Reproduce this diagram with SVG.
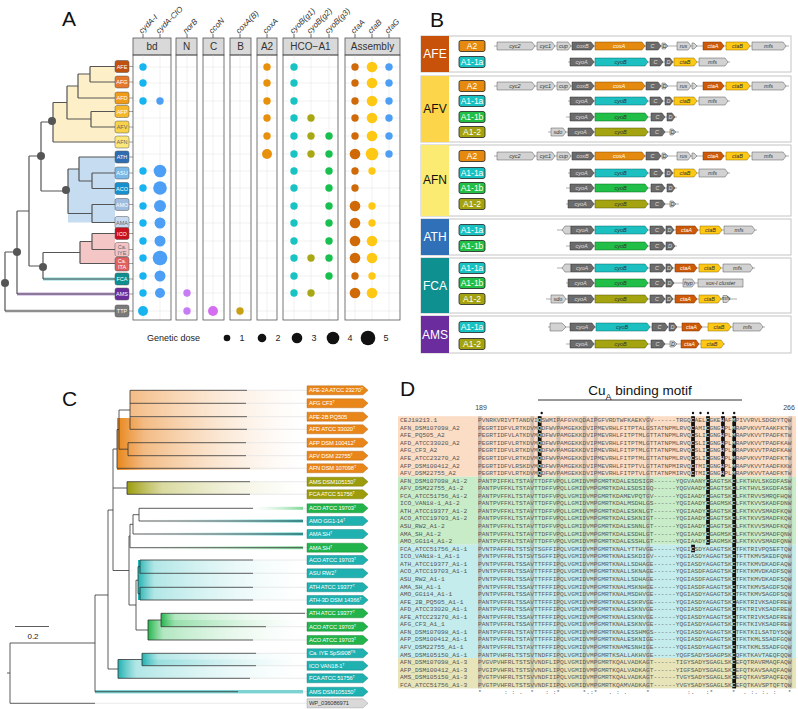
<svg xmlns="http://www.w3.org/2000/svg" width="798" height="709" viewBox="0 0 798 709">
<defs>
<style>
text{font-family:"Liberation Sans",Arial,sans-serif}
.pl{font-size:21px;fill:#111}
.ch{font-size:8px;font-style:italic;fill:#333}
.st{font-size:10px;fill:#333;text-anchor:middle}
.strip{fill:#d9d9d9;stroke:#555;stroke-width:0.8}
.pan{fill:none;stroke:#555;stroke-width:0.8}
.grid{stroke:#ebebeb;stroke-width:0.7;fill:none}
.tk{stroke:#444;stroke-width:0.8}
.tr{stroke:#555;stroke-width:1.2;fill:none}
.nd{fill:#555}
.tl{stroke:#444;stroke-width:0.5}
.tt{font-size:5.5px;fill:#fff;text-anchor:middle}
.ttd{font-size:5.5px;fill:#666;text-anchor:middle}
.c1{fill:#18b4f0}.c2{fill:#4c9ff5}.c3{fill:#c77cf5}.c4{fill:#d46ef0}.c5{fill:#c8a014}.c6{fill:#e8900c}.c7{fill:#19c3c3}.c8{fill:#a8a814}.c9{fill:#18c050}.c10{fill:#d06a08}.c11{fill:#ffc815}
.box{fill:#fff;stroke:#c4c4c4;stroke-width:1}
.blk{font-size:12px;text-anchor:middle}
.ty{stroke:#222;stroke-width:0.8}
.tyt{font-size:8.5px;fill:#fff;text-anchor:middle}
.bb{stroke:#999;stroke-width:0.8}
.lg{fill:#d2d2d2;stroke:#555;stroke-width:0.5}
.dg{fill:#6b6b6b;stroke:#333;stroke-width:0.5}
.or{fill:#e48a0e;stroke:#8a4a00;stroke-width:0.5}
.dor{fill:#cc5a08;stroke:#7a3000;stroke-width:0.5}
.gd{fill:#ffc814;stroke:#8a6a00;stroke-width:0.5}
.tq{fill:#1cc0c0;stroke:#0a6a6a;stroke-width:0.5}
.gn{fill:#22bf48;stroke:#0a6a20;stroke-width:0.5}
.ol{fill:#a4a410;stroke:#555500;stroke-width:0.5}
.g{font-size:5.5px;font-style:italic;text-anchor:middle;fill:#333}
.gw{font-size:5.5px;font-style:italic;text-anchor:middle;fill:#fff}
.gl{font-size:5.5px;font-style:italic;text-anchor:middle;fill:#ddd}
.ct{stroke:#333;stroke-width:0.8;fill:none}
.cf{stroke:#e4e4e4;stroke-width:0.8}
.lab{font-size:5.8px;fill:#fff;letter-spacing:-0.15px}
.labd{font-size:5.8px;fill:#333;letter-spacing:-0.15px}
.nm{font-family:"Liberation Mono","Courier New",monospace;font-size:6.23px;fill:#555}
.sq{font-family:"Liberation Mono","Courier New",monospace;font-size:6.23px;fill:#5a5a5a}
.w{fill:#fff}
</style>
<linearGradient id="gO"><stop offset="0" stop-color="#e8861a"/><stop offset="0.15" stop-color="#efa55c" stop-opacity="0.75"/><stop offset="1" stop-color="#fbe3cc" stop-opacity="0"/></linearGradient>
<linearGradient id="gOL"><stop offset="0" stop-color="#f2b070" stop-opacity="0.85"/><stop offset="1" stop-color="#fbe3cc" stop-opacity="0"/></linearGradient>
<linearGradient id="gOl"><stop offset="0" stop-color="#9c9c0c"/><stop offset="0.2" stop-color="#c0c060" stop-opacity="0.6"/><stop offset="1" stop-color="#e8e8c0" stop-opacity="0"/></linearGradient>
<linearGradient id="gT"><stop offset="0" stop-color="#1fb0b0"/><stop offset="0.1" stop-color="#7fd6d6" stop-opacity="0.6"/><stop offset="1" stop-color="#d8f4f4" stop-opacity="0"/></linearGradient>
<linearGradient id="gG"><stop offset="0" stop-color="#22b34a"/><stop offset="0.1" stop-color="#80d898" stop-opacity="0.6"/><stop offset="1" stop-color="#e0f6e6" stop-opacity="0"/></linearGradient>
<linearGradient id="gTr"><stop offset="0" stop-color="#d0f0f0" stop-opacity="0"/><stop offset="1" stop-color="#3cc0c0"/></linearGradient>
<linearGradient id="gGr"><stop offset="0" stop-color="#d0f0d8" stop-opacity="0"/><stop offset="1" stop-color="#7fd898"/></linearGradient>
<clipPath id="cpA"><rect x="133" y="55" width="38" height="265"/><rect x="176" y="55" width="21" height="265"/><rect x="203" y="55" width="21" height="265"/><rect x="230" y="55" width="21" height="265"/><rect x="257" y="55" width="20" height="265"/><rect x="283" y="55" width="55" height="265"/><rect x="345" y="55" width="55" height="265"/></clipPath>
</defs>
<rect width="798" height="709" fill="#fff"/>

<!-- ===== Panel A ===== -->
<text class="pl" x="62" y="26">A</text>
<g id="a-headers">
<text class="ch" transform="translate(142,34) rotate(-45)">cydA-I</text>
<text class="ch" transform="translate(159,34) rotate(-45)">cydA-CIO</text>
<text class="ch" transform="translate(186,34) rotate(-45)">norB</text>
<text class="ch" transform="translate(212,34) rotate(-45)">ccoN</text>
<text class="ch" transform="translate(239,34) rotate(-45)">coxA(B)</text>
<text class="ch" transform="translate(266,34) rotate(-45)">coxA</text>
<text class="ch" transform="translate(293,34) rotate(-45)">cyoB(g1)</text>
<text class="ch" transform="translate(310,34) rotate(-45)">cyoB(g2)</text>
<text class="ch" transform="translate(328,34) rotate(-45)">cyoB(g3)</text>
<text class="ch" transform="translate(354,34) rotate(-45)">ctaA</text>
<text class="ch" transform="translate(371,34) rotate(-45)">ctaB</text>
<text class="ch" transform="translate(388,34) rotate(-45)">ctaG</text>
<path class="tk" d="M143 34V38M160 34V38M187 34V38M213 34V38M240 34V38M267 34V38M294 34V38M311 34V38M329 34V38M355 34V38M372 34V38M389 34V38"/>
</g>
<g id="a-facets">
<rect class="strip" x="133" y="38" width="38" height="17"/><text class="st" x="152" y="50">bd</text>
<rect class="strip" x="176" y="38" width="21" height="17"/><text class="st" x="186.5" y="50">N</text>
<rect class="strip" x="203" y="38" width="21" height="17"/><text class="st" x="213.5" y="50">C</text>
<rect class="strip" x="230" y="38" width="21" height="17"/><text class="st" x="240.5" y="50">B</text>
<rect class="strip" x="257" y="38" width="20" height="17"/><text class="st" x="267" y="50">A2</text>
<rect class="strip" x="283" y="38" width="55" height="17"/><text class="st" x="310.5" y="50">HCO−A1</text>
<rect class="strip" x="345" y="38" width="55" height="17"/><text class="st" x="372.5" y="50">Assembly</text>
<g clip-path="url(#cpA)">
<path class="grid" d="M133 67H400M133 83H400M133 101H400M133 118H400M133 136H400M133 154H400M133 171H400M133 188H400M133 206H400M133 223H400M133 241H400M133 258H400M133 276H400M133 293H400M133 311H400"/>
<path class="grid" d="M143 55V320M160 55V320M187 55V320M213 55V320M240 55V320M267 55V320M294 55V320M311 55V320M329 55V320M355 55V320M372 55V320M389 55V320"/>
</g>
<rect class="pan" x="133" y="55" width="38" height="265"/>
<rect class="pan" x="176" y="55" width="21" height="265"/>
<rect class="pan" x="203" y="55" width="21" height="265"/>
<rect class="pan" x="230" y="55" width="21" height="265"/>
<rect class="pan" x="257" y="55" width="20" height="265"/>
<rect class="pan" x="283" y="55" width="55" height="265"/>
<rect class="pan" x="345" y="55" width="55" height="265"/>
</g>
<g id="a-dots">
<g class="c1"><circle cx="143" cy="67" r="3.7"/><circle cx="143" cy="83" r="3.7"/><circle cx="143" cy="101" r="3.7"/><circle cx="143" cy="171" r="3.7"/><circle cx="143" cy="188" r="3.7"/><circle cx="143" cy="206" r="3.7"/><circle cx="143" cy="223" r="3.7"/><circle cx="143" cy="241" r="3.7"/><circle cx="143" cy="258" r="3.7"/><circle cx="143" cy="276" r="3.7"/><circle cx="143" cy="293" r="3.7"/><circle cx="143" cy="311" r="5"/></g>
<g class="c2"><circle cx="160" cy="101" r="3.7"/><circle cx="160" cy="171" r="6.3"/><circle cx="160" cy="188" r="6.8"/><circle cx="160" cy="206" r="6"/><circle cx="160" cy="223" r="5.5"/><circle cx="160" cy="241" r="5.5"/><circle cx="160" cy="258" r="7.3"/><circle cx="160" cy="276" r="5.5"/><circle cx="160" cy="293" r="5"/></g>
<g class="c3"><circle cx="187" cy="293" r="3.7"/><circle cx="187" cy="311" r="3.7"/></g>
<circle class="c4" cx="213" cy="311" r="5"/>
<circle class="c5" cx="240" cy="311" r="3.7"/>
<g class="c6"><circle cx="267" cy="67" r="3.7"/><circle cx="267" cy="83" r="3.7"/><circle cx="267" cy="101" r="3.7"/><circle cx="267" cy="118" r="3.7"/><circle cx="267" cy="136" r="3.7"/><circle cx="267" cy="154" r="5"/></g>
<g class="c7"><circle cx="294" cy="67" r="3.7"/><circle cx="294" cy="83" r="3.7"/><circle cx="294" cy="101" r="3.7"/><circle cx="294" cy="118" r="3.7"/><circle cx="294" cy="136" r="3.7"/><circle cx="294" cy="154" r="3.7"/><circle cx="294" cy="171" r="3.7"/><circle cx="294" cy="188" r="3.7"/><circle cx="294" cy="206" r="3.7"/><circle cx="294" cy="223" r="3.7"/><circle cx="294" cy="241" r="3.7"/><circle cx="294" cy="258" r="3.7"/><circle cx="294" cy="276" r="3.7"/><circle cx="294" cy="293" r="3.7"/></g>
<g class="c8"><circle cx="311" cy="118" r="3.7"/><circle cx="311" cy="136" r="3.7"/><circle cx="311" cy="154" r="3.7"/><circle cx="311" cy="258" r="3.7"/><circle cx="311" cy="293" r="3.7"/></g>
<g class="c9"><circle cx="329" cy="136" r="3.7"/><circle cx="329" cy="154" r="3.7"/><circle cx="329" cy="171" r="3.7"/><circle cx="329" cy="188" r="3.7"/><circle cx="329" cy="206" r="3.7"/><circle cx="329" cy="223" r="3.7"/><circle cx="329" cy="241" r="3.7"/><circle cx="329" cy="258" r="3.7"/><circle cx="329" cy="276" r="3.7"/></g>
<g class="c10"><circle cx="355" cy="67" r="3.7"/><circle cx="355" cy="83" r="3.7"/><circle cx="355" cy="101" r="3.7"/><circle cx="355" cy="118" r="3.7"/><circle cx="355" cy="136" r="3.7"/><circle cx="355" cy="154" r="5.3"/><circle cx="355" cy="171" r="3.7"/><circle cx="355" cy="188" r="3.7"/><circle cx="355" cy="206" r="5.3"/><circle cx="355" cy="223" r="5.3"/><circle cx="355" cy="241" r="5.3"/><circle cx="355" cy="258" r="5.3"/><circle cx="355" cy="276" r="3.7"/><circle cx="355" cy="293" r="5.3"/></g>
<g class="c11"><circle cx="372" cy="67" r="5.3"/><circle cx="372" cy="83" r="5.3"/><circle cx="372" cy="101" r="5.3"/><circle cx="372" cy="118" r="5.3"/><circle cx="372" cy="136" r="5.3"/><circle cx="372" cy="154" r="6.3"/><circle cx="372" cy="171" r="3.7"/><circle cx="372" cy="206" r="3.7"/><circle cx="372" cy="223" r="3.7"/><circle cx="372" cy="241" r="5.3"/><circle cx="372" cy="258" r="5.3"/><circle cx="372" cy="276" r="3.7"/><circle cx="372" cy="293" r="5.3"/></g>
<g class="c2"><circle cx="389" cy="67" r="3.7"/><circle cx="389" cy="83" r="3.7"/><circle cx="389" cy="101" r="3.7"/><circle cx="389" cy="118" r="3.7"/><circle cx="389" cy="136" r="3.7"/><circle cx="389" cy="154" r="3.7"/></g>
</g>
<g id="a-legend">
<text x="147" y="341" font-size="9" fill="#222">Genetic dose</text>
<circle cx="227" cy="338" r="3.3" fill="#111"/><text x="242" y="341" font-size="9" fill="#222" text-anchor="middle">1</text>
<circle cx="262" cy="338" r="4.3" fill="#111"/><text x="278" y="341" font-size="9" fill="#222" text-anchor="middle">2</text>
<circle cx="297" cy="338" r="5.3" fill="#111"/><text x="314" y="341" font-size="9" fill="#222" text-anchor="middle">3</text>
<circle cx="333" cy="338" r="6.3" fill="#111"/><text x="350" y="341" font-size="9" fill="#222" text-anchor="middle">4</text>
<circle cx="368" cy="338" r="7.3" fill="#111"/><text x="386" y="341" font-size="9" fill="#222" text-anchor="middle">5</text>
</g>
<g id="a-tree">
<path d="M90 66.5H115V142H53V102.5H67V86H78V74H90Z" fill="#fdf0c8"/>
<path d="M79 157H115V222.5H68V169H79Z" fill="#c6dcf0"/>
<path d="M92 233.5H115V263.5H80V241.5H92Z" fill="#f5c6c6"/>
<path d="M43 279H115" stroke="#8ad8d8" stroke-width="3"/>
<path d="M17 294H115" stroke="#c0a0dc" stroke-width="3"/>
<path d="M5 311H115" stroke="#c8c8c8" stroke-width="3"/>
<path class="tr" d="M90 66.5H115M90 82H115M90 66.5V82M78 74H90M78 98H115M78 74V98M91 111.5H115M91 127H115M91 111.5V127M67 86H78M67 119H91M67 86V119M53 102.5H67M53 142H115M53 102.5V142M92 173H115M92 188.5H115M92 173V188.5M79 157H115M79 181H92M79 157V181M92 204.5H115M92 222.5H115M92 204.5V222.5M68 169H79M68 213.5H92M68 169V213.5M41 122H53M41 191H68M41 122V191M92 233.5H115M92 249.5H115M92 233.5V249.5M80 241.5H92M80 263.5H115M80 241.5V263.5M43 252.5H80M43 279H115M43 252.5V279M29 156H41M29 266H43M29 156V266M17 211H29M17 294H115M17 211V294M5 252H17M5 311H115M5 252V311"/>
<circle class="nd" cx="52" cy="121" r="4"/><circle class="nd" cx="41" cy="156" r="4"/><circle class="nd" cx="66" cy="190" r="4"/><circle class="nd" cx="43" cy="267" r="4"/><circle class="nd" cx="17" cy="252" r="4"/><circle class="nd" cx="5" cy="283" r="4"/>
<path class="tl" d="M129 66.5H133M129 82H133M129 98H133M129 111.5H133M129 127H133M129 142H133M129 157H133M129 173H133M129 188.5H133M129 204.5H133M129 222.5H133M129 233.5H133M129 249.5H133M129 263.5H133M129 279H133M129 294H133M129 311H133"/>
</g>
<g id="a-tip-AFE"><rect x="115" y="60.5" width="14" height="12" rx="2" fill="#c0500e" stroke="#555" stroke-width="0.5"/><text class="tt" x="122" y="68.5">AFE</text></g>
<g id="a-tip-AFG"><rect x="115" y="76" width="14" height="12" rx="2" fill="#e5782a" stroke="#555" stroke-width="0.5"/><text class="tt" x="122" y="84">AFG</text></g>
<g id="a-tip-AFD"><rect x="115" y="92" width="14" height="12" rx="2" fill="#f09a1a" stroke="#555" stroke-width="0.5"/><text class="tt" x="122" y="100">AFD</text></g>
<g id="a-tip-AFP"><rect x="115" y="105.5" width="14" height="12" rx="2" fill="#f5b82a" stroke="#555" stroke-width="0.5"/><text class="tt" x="122" y="113.5">AFP</text></g>
<g id="a-tip-AFV"><rect x="115" y="121" width="14" height="12" rx="2" fill="#f8d24a" stroke="#555" stroke-width="0.5"/><text class="ttd" x="122" y="129">AFV</text></g>
<g id="a-tip-AFN"><rect x="115" y="136" width="14" height="12" rx="2" fill="#fbe77a" stroke="#555" stroke-width="0.5"/><text class="ttd" x="122" y="144">AFN</text></g>
<g id="a-tip-ATH"><rect x="115" y="151" width="14" height="12" rx="2" fill="#2f6db3" stroke="#555" stroke-width="0.5"/><text class="tt" x="122" y="159">ATH</text></g>
<g id="a-tip-ASU"><rect x="115" y="167" width="14" height="12" rx="2" fill="#7ab8e8" stroke="#555" stroke-width="0.5"/><text class="tt" x="122" y="175">ASU</text></g>
<g id="a-tip-ACO"><rect x="115" y="182.5" width="14" height="12" rx="2" fill="#1790d0" stroke="#555" stroke-width="0.5"/><text class="tt" x="122" y="190.5">ACO</text></g>
<g id="a-tip-AMO"><rect x="115" y="198.5" width="14" height="12" rx="2" fill="#a0bde0" stroke="#555" stroke-width="0.5"/><text class="tt" x="122" y="206.5">AMO</text></g>
<g id="a-tip-AMA"><rect x="115" y="216.5" width="14" height="12" rx="2" fill="#c8daf0" stroke="#555" stroke-width="0.5"/><text class="ttd" x="122" y="224.5">AMA</text></g>
<g id="a-tip-ICO"><rect x="115" y="227.5" width="14" height="12" rx="2" fill="#c8101e" stroke="#555" stroke-width="0.5"/><text class="tt" x="122" y="235.5">ICO</text></g>
<g id="a-tip-IYE"><rect x="115" y="242.5" width="14" height="14" rx="2" fill="#f4c4c4" stroke="#555" stroke-width="0.5"/><text class="ttd" x="122" y="248.5">Ca.</text><text class="ttd" x="122" y="254.5">IYE</text></g>
<g id="a-tip-ITA"><rect x="115" y="257" width="14" height="14" rx="2" fill="#e06060" stroke="#555" stroke-width="0.5"/><text class="tt" x="122" y="263">Ca.</text><text class="tt" x="122" y="269">ITA</text></g>
<g id="a-tip-FCA"><rect x="115" y="273" width="14" height="12" rx="2" fill="#0d8f8f" stroke="#555" stroke-width="0.5"/><text class="tt" x="122" y="281">FCA</text></g>
<g id="a-tip-AMS"><rect x="115" y="288" width="14" height="12" rx="2" fill="#6a2b9c" stroke="#555" stroke-width="0.5"/><text class="tt" x="122" y="296">AMS</text></g>
<g id="a-tip-TTP"><rect x="115" y="305" width="14" height="12" rx="2" fill="#7a7a7a" stroke="#555" stroke-width="0.5"/><text class="tt" x="122" y="313">TTP</text></g>

<!-- ===== Panel B ===== -->
<text class="pl" x="430" y="27">B</text>
<g id="b-AFE"><rect class="box" x="421" y="36" width="370" height="36"/><rect x="421" y="36" width="28" height="36" fill="#c8520a"/><text class="blk" x="435" y="58" fill="#fff">AFE</text></g>
<g id="b-AFV"><rect class="box" x="421" y="76" width="370" height="66"/><rect x="421" y="76" width="28" height="66" fill="#fcd54a"/><text class="blk" x="435" y="113" fill="#111">AFV</text></g>
<g id="b-AFN"><rect class="box" x="421" y="145" width="370" height="71"/><rect x="421" y="145" width="28" height="71" fill="#fceb73"/><text class="blk" x="435" y="184" fill="#111">AFN</text></g>
<g id="b-ATH"><rect class="box" x="421" y="219" width="370" height="36"/><rect x="421" y="219" width="28" height="36" fill="#2f70b8"/><text class="blk" x="435" y="241" fill="#fff">ATH</text></g>
<g id="b-FCA"><rect class="box" x="421" y="258" width="370" height="55"/><rect x="421" y="258" width="28" height="55" fill="#0f9090"/><text class="blk" x="435" y="289.5" fill="#fff">FCA</text></g>
<g id="b-AMS"><rect class="box" x="421" y="316" width="370" height="37"/><rect x="421" y="316" width="28" height="37" fill="#6b2d9e"/><text class="blk" x="435" y="339" fill="#fff">AMS</text></g>
<g id="b-types">
<rect class="ty" x="459" y="40.5" width="26" height="11" rx="2" fill="#e58a0e"/><text class="tyt" x="472" y="49">A2</text>
<rect class="ty" x="459" y="56.5" width="26" height="11" rx="2" fill="#19c2c2"/><text class="tyt" x="472" y="65">A1-1a</text>
<rect class="ty" x="459" y="80.5" width="26" height="11" rx="2" fill="#e58a0e"/><text class="tyt" x="472" y="89">A2</text>
<rect class="ty" x="459" y="95.5" width="26" height="11" rx="2" fill="#19c2c2"/><text class="tyt" x="472" y="104">A1-1a</text>
<rect class="ty" x="459" y="111.5" width="26" height="11" rx="2" fill="#21bf45"/><text class="tyt" x="472" y="120">A1-1b</text>
<rect class="ty" x="459" y="126.5" width="26" height="11" rx="2" fill="#a3a311"/><text class="tyt" x="472" y="135">A1-2</text>
<rect class="ty" x="459" y="150.5" width="26" height="11" rx="2" fill="#e58a0e"/><text class="tyt" x="472" y="159">A2</text>
<rect class="ty" x="459" y="167.5" width="26" height="11" rx="2" fill="#19c2c2"/><text class="tyt" x="472" y="176">A1-1a</text>
<rect class="ty" x="459" y="182.5" width="26" height="11" rx="2" fill="#21bf45"/><text class="tyt" x="472" y="191">A1-1b</text>
<rect class="ty" x="459" y="198.5" width="26" height="11" rx="2" fill="#a3a311"/><text class="tyt" x="472" y="207">A1-2</text>
<rect class="ty" x="459" y="224.5" width="26" height="11" rx="2" fill="#19c2c2"/><text class="tyt" x="472" y="233">A1-1a</text>
<rect class="ty" x="459" y="240.5" width="26" height="11" rx="2" fill="#21bf45"/><text class="tyt" x="472" y="249">A1-1b</text>
<rect class="ty" x="459" y="262.5" width="26" height="11" rx="2" fill="#19c2c2"/><text class="tyt" x="472" y="271">A1-1a</text>
<rect class="ty" x="459" y="277.5" width="26" height="11" rx="2" fill="#21bf45"/><text class="tyt" x="472" y="286">A1-1b</text>
<rect class="ty" x="459" y="293.5" width="26" height="11" rx="2" fill="#a3a311"/><text class="tyt" x="472" y="302">A1-2</text>
<rect class="ty" x="459" y="321.5" width="26" height="11" rx="2" fill="#19c2c2"/><text class="tyt" x="472" y="330">A1-1a</text>
<rect class="ty" x="459" y="338.5" width="26" height="11" rx="2" fill="#a3a311"/><text class="tyt" x="472" y="347">A1-2</text>
</g>
<g id="b-genes">
<g transform="translate(0,46)"><line class="bb" x1="494" y1="0" x2="789" y2="0"/><path class="lg" d="M497 -4H532L535 0L532 4H497Z"/><text class="g" x="515" y="2">cyc2</text><path class="lg" d="M537 -4H552L555 0L552 4H537Z"/><text class="g" x="545.5" y="2">cyc1</text><path class="lg" d="M557 -4H568L571 0L568 4H557Z"/><text class="g" x="563.5" y="2">cup</text><path class="dg" d="M572 -4H591L594 0L591 4H572Z"/><text class="gl" x="582.5" y="2">coxB</text><path class="or" d="M595 -4H642L645 0L642 4H595Z"/><text class="gw" x="619" y="2">coxA</text><path class="dg" d="M646 -4H658L661 0L658 4H646Z"/><text class="gl" x="652.5" y="2">C</text><path class="lg" d="M662 -3H665L668 0L665 3H662Z"/><text class="g" x="664.5" y="1.5" font-size="4">D</text><path class="lg" d="M677 -4H688L691 0L688 4H677Z"/><text class="g" x="683.5" y="2">rus</text><path class="lg" d="M692 -3H694L697 0L694 3H692Z"/><path class="dor" d="M703 -4H721L724 0L721 4H703Z"/><text class="gw" x="713" y="2">ctaA</text><path class="gd" d="M726 -4H747L750 0L747 4H726Z"/><text class="g" x="737.5" y="2">ctaB</text><path class="lg" d="M752 -4H783L786 0L783 4H752Z"/><text class="g" x="768.5" y="2">mfs</text></g>
<g transform="translate(0,86)"><line class="bb" x1="494" y1="0" x2="789" y2="0"/><path class="lg" d="M497 -4H532L535 0L532 4H497Z"/><text class="g" x="515" y="2">cyc2</text><path class="lg" d="M537 -4H552L555 0L552 4H537Z"/><text class="g" x="545.5" y="2">cyc1</text><path class="lg" d="M557 -4H568L571 0L568 4H557Z"/><text class="g" x="563.5" y="2">cup</text><path class="dg" d="M572 -4H591L594 0L591 4H572Z"/><text class="gl" x="582.5" y="2">coxB</text><path class="or" d="M595 -4H642L645 0L642 4H595Z"/><text class="gw" x="619" y="2">coxA</text><path class="dg" d="M646 -4H658L661 0L658 4H646Z"/><text class="gl" x="652.5" y="2">C</text><path class="lg" d="M662 -3H665L668 0L665 3H662Z"/><text class="g" x="664.5" y="1.5" font-size="4">D</text><path class="lg" d="M677 -4H688L691 0L688 4H677Z"/><text class="g" x="683.5" y="2">rus</text><path class="lg" d="M692 -3H694L697 0L694 3H692Z"/><path class="dor" d="M703 -4H721L724 0L721 4H703Z"/><text class="gw" x="713" y="2">ctaA</text><path class="gd" d="M726 -4H747L750 0L747 4H726Z"/><text class="g" x="737.5" y="2">ctaB</text><path class="lg" d="M752 -4H783L786 0L783 4H752Z"/><text class="g" x="768.5" y="2">mfs</text></g>
<g transform="translate(0,156)"><line class="bb" x1="494" y1="0" x2="789" y2="0"/><path class="lg" d="M497 -4H532L535 0L532 4H497Z"/><text class="g" x="515" y="2">cyc2</text><path class="lg" d="M537 -4H552L555 0L552 4H537Z"/><text class="g" x="545.5" y="2">cyc1</text><path class="lg" d="M557 -4H568L571 0L568 4H557Z"/><text class="g" x="563.5" y="2">cup</text><path class="dg" d="M572 -4H591L594 0L591 4H572Z"/><text class="gl" x="582.5" y="2">coxB</text><path class="or" d="M595 -4H642L645 0L642 4H595Z"/><text class="gw" x="619" y="2">coxA</text><path class="dg" d="M646 -4H658L661 0L658 4H646Z"/><text class="gl" x="652.5" y="2">C</text><path class="lg" d="M662 -3H665L668 0L665 3H662Z"/><text class="g" x="664.5" y="1.5" font-size="4">D</text><path class="lg" d="M677 -4H688L691 0L688 4H677Z"/><text class="g" x="683.5" y="2">rus</text><path class="lg" d="M692 -3H694L697 0L694 3H692Z"/><path class="dor" d="M703 -4H721L724 0L721 4H703Z"/><text class="gw" x="713" y="2">ctaA</text><path class="gd" d="M726 -4H747L750 0L747 4H726Z"/><text class="g" x="737.5" y="2">ctaB</text><path class="lg" d="M752 -4H783L786 0L783 4H752Z"/><text class="g" x="768.5" y="2">mfs</text></g>
<g transform="translate(0,62)"><line class="bb" x1="568" y1="0" x2="730" y2="0"/><path class="dg" d="M570 -4H591L594 0L591 4H570Z"/><text class="gl" x="581.5" y="2">cyoA</text><path class="tq" d="M595 -4H645L648 0L645 4H595Z"/><text class="g" x="620.5" y="2">cyoB</text><path class="dg" d="M650 -4H660L663 0L660 4H650Z"/><text class="gl" x="655.5" y="2">C</text><path class="dg" d="M665 -4H670L673 0L670 4H665Z"/><text class="gl" x="668.5" y="2">D</text><path class="gd" d="M674 -4H694L697 0L694 4H674Z"/><text class="g" x="685" y="2">ctaB</text><path class="lg" d="M699 -4H725L728 0L725 4H699Z"/><text class="g" x="712.5" y="2">mfs</text></g>
<g transform="translate(0,101)"><line class="bb" x1="568" y1="0" x2="730" y2="0"/><path class="dg" d="M570 -4H591L594 0L591 4H570Z"/><text class="gl" x="581.5" y="2">cyoA</text><path class="tq" d="M595 -4H645L648 0L645 4H595Z"/><text class="g" x="620.5" y="2">cyoB</text><path class="dg" d="M650 -4H660L663 0L660 4H650Z"/><text class="gl" x="655.5" y="2">C</text><path class="dg" d="M665 -4H670L673 0L670 4H665Z"/><text class="gl" x="668.5" y="2">D</text><path class="gd" d="M674 -4H694L697 0L694 4H674Z"/><text class="g" x="685" y="2">ctaB</text><path class="lg" d="M699 -4H725L728 0L725 4H699Z"/><text class="g" x="712.5" y="2">mfs</text></g>
<g transform="translate(0,173)"><line class="bb" x1="568" y1="0" x2="730" y2="0"/><path class="dg" d="M570 -4H591L594 0L591 4H570Z"/><text class="gl" x="581.5" y="2">cyoA</text><path class="tq" d="M595 -4H645L648 0L645 4H595Z"/><text class="g" x="620.5" y="2">cyoB</text><path class="dg" d="M650 -4H660L663 0L660 4H650Z"/><text class="gl" x="655.5" y="2">C</text><path class="dg" d="M665 -4H670L673 0L670 4H665Z"/><text class="gl" x="668.5" y="2">D</text><path class="gd" d="M674 -4H694L697 0L694 4H674Z"/><text class="g" x="685" y="2">ctaB</text><path class="lg" d="M699 -4H725L728 0L725 4H699Z"/><text class="g" x="712.5" y="2">mfs</text></g>
<g transform="translate(0,117)"><line class="bb" x1="566" y1="0" x2="677" y2="0"/><path class="dg" d="M570 -4H591L594 0L591 4H570Z"/><text class="gl" x="581.5" y="2">cyoA</text><path class="gn" d="M595 -4H645L648 0L645 4H595Z"/><text class="g" x="620.5" y="2">cyoB</text><path class="dg" d="M651 -4H662L665 0L662 4H651Z"/><text class="gl" x="657.5" y="2">C</text><path class="dg" d="M667 -4H672L675 0L672 4H667Z"/><text class="gl" x="670.5" y="2">D</text></g>
<g transform="translate(0,188)"><line class="bb" x1="566" y1="0" x2="677" y2="0"/><path class="dg" d="M570 -4H591L594 0L591 4H570Z"/><text class="gl" x="581.5" y="2">cyoA</text><path class="gn" d="M595 -4H645L648 0L645 4H595Z"/><text class="g" x="620.5" y="2">cyoB</text><path class="dg" d="M651 -4H662L665 0L662 4H651Z"/><text class="gl" x="657.5" y="2">C</text><path class="dg" d="M667 -4H672L675 0L672 4H667Z"/><text class="gl" x="670.5" y="2">D</text></g>
<g transform="translate(0,132)"><line class="bb" x1="548" y1="0" x2="679" y2="0"/><path class="lg" d="M551 -4H563L566 0L563 4H551Z"/><text class="g" x="558" y="2">sdo</text><path class="dg" d="M568 -4H591L594 0L591 4H568Z"/><text class="gl" x="580.5" y="2">cyoA</text><path class="ol" d="M595 -4H645L648 0L645 4H595Z"/><text class="g" x="620.5" y="2">cyoB</text><path class="dg" d="M650 -4H662L665 0L662 4H650Z"/><text class="gl" x="657" y="2">C</text><path class="lg" d="M670 -3H673L676 0L673 3H670Z"/><text class="g" x="672.5" y="1.5" font-size="4">D</text></g>
<g transform="translate(0,204)"><line class="bb" x1="566" y1="0" x2="679" y2="0"/><path class="dg" d="M568 -4H591L594 0L591 4H568Z"/><text class="gl" x="580.5" y="2">cyoA</text><path class="ol" d="M595 -4H645L648 0L645 4H595Z"/><text class="g" x="620.5" y="2">cyoB</text><path class="dg" d="M650 -4H662L665 0L662 4H650Z"/><text class="gl" x="657" y="2">C</text><path class="lg" d="M670 -3H673L676 0L673 3H670Z"/><text class="g" x="672.5" y="1.5" font-size="4">D</text></g>
<g transform="translate(0,230)"><line class="bb" x1="557" y1="0" x2="757" y2="0"/><path class="lg" d="M571 -4H565L562 0L565 4H571Z"/><path class="dg" d="M571 -4H591L594 0L591 4H571Z"/><text class="gl" x="582" y="2">cyoA</text><path class="tq" d="M595 -4H645L648 0L645 4H595Z"/><text class="g" x="620.5" y="2">cyoB</text><path class="dg" d="M650 -4H662L665 0L662 4H650Z"/><text class="gl" x="657" y="2">C</text><path class="dg" d="M666 -4H671L674 0L671 4H666Z"/><text class="gl" x="669.5" y="2">D</text><path class="dor" d="M676 -4H695L698 0L695 4H676Z"/><text class="gw" x="686.5" y="2">ctaA</text><path class="gd" d="M700 -4H719L722 0L719 4H700Z"/><text class="g" x="710.5" y="2">ctaB</text><path class="lg" d="M724 -4H752L755 0L752 4H724Z"/><text class="g" x="739" y="2">mfs</text></g>
<g transform="translate(0,246)"><line class="bb" x1="566" y1="0" x2="677" y2="0"/><path class="dg" d="M570 -4H591L594 0L591 4H570Z"/><text class="gl" x="581.5" y="2">cyoA</text><path class="gn" d="M595 -4H645L648 0L645 4H595Z"/><text class="g" x="620.5" y="2">cyoB</text><path class="dg" d="M650 -4H662L665 0L662 4H650Z"/><text class="gl" x="657" y="2">C</text><path class="dg" d="M666 -4H672L675 0L672 4H666Z"/><text class="gl" x="670" y="2">D</text></g>
<g transform="translate(0,268)"><line class="bb" x1="557" y1="0" x2="755" y2="0"/><path class="lg" d="M571 -4H565L562 0L565 4H571Z"/><path class="dg" d="M571 -4H591L594 0L591 4H571Z"/><text class="gl" x="582" y="2">cyoA</text><path class="tq" d="M595 -4H645L648 0L645 4H595Z"/><text class="g" x="620.5" y="2">cyoB</text><path class="dg" d="M650 -4H662L665 0L662 4H650Z"/><text class="gl" x="657" y="2">C</text><path class="dg" d="M666 -4H670L673 0L670 4H666Z"/><text class="gl" x="669" y="2">D</text><path class="dor" d="M675 -4H694L697 0L694 4H675Z"/><text class="gw" x="685.5" y="2">ctaA</text><path class="gd" d="M699 -4H718L721 0L718 4H699Z"/><text class="g" x="709.5" y="2">ctaB</text><path class="lg" d="M723 -4H750L753 0L750 4H723Z"/><text class="g" x="737.5" y="2">mfs</text></g>
<g transform="translate(0,283)"><line class="bb" x1="566" y1="0" x2="698" y2="0"/><path class="dg" d="M568 -4H591L594 0L591 4H568Z"/><text class="gl" x="580.5" y="2">cyoA</text><path class="gn" d="M595 -4H645L648 0L645 4H595Z"/><text class="g" x="620.5" y="2">cyoB</text><path class="dg" d="M650 -4H662L665 0L662 4H650Z"/><text class="gl" x="657" y="2">C</text><path class="dg" d="M666 -4H671L674 0L671 4H666Z"/><text class="gl" x="669.5" y="2">D</text><path class="lg" d="M683 -4H692L695 0L692 4H683Z"/><text class="g" x="688.5" y="2">hyp</text><rect class="lg" x="698" y="-4" width="45" height="8"/><text class="g" x="720.5" y="2">sox-I cluster</text></g>
<g transform="translate(0,299)"><line class="bb" x1="546" y1="0" x2="737" y2="0"/><path class="lg" d="M551 -4H563L566 0L563 4H551Z"/><text class="g" x="558" y="2">sdo</text><path class="dg" d="M568 -4H591L594 0L591 4H568Z"/><text class="gl" x="580.5" y="2">cyoA</text><path class="ol" d="M595 -4H645L648 0L645 4H595Z"/><text class="g" x="620.5" y="2">cyoB</text><path class="dg" d="M650 -4H662L665 0L662 4H650Z"/><text class="gl" x="657" y="2">C</text><path class="dg" d="M666 -4H670L673 0L670 4H666Z"/><text class="gl" x="669" y="2">D</text><path class="dor" d="M675 -4H694L697 0L694 4H675Z"/><text class="gw" x="685.5" y="2">ctaA</text><path class="gd" d="M699 -4H718L721 0L718 4H699Z"/><text class="g" x="709.5" y="2">ctaB</text><path class="lg" d="M723 -3.5H727L730 0L727 3.5H723Z"/><text class="g" x="726" y="1.2" font-size="3">mfs</text></g>
<g transform="translate(0,327)"><line class="bb" x1="548" y1="0" x2="765" y2="0"/><path class="lg" d="M550 -4H562L566 0L562 4H550Z"/><path class="dg" d="M570 -4H592L595 0L592 4H570Z"/><text class="gl" x="582" y="2">cyoA</text><path class="tq" d="M596 -4H647L650 0L647 4H596Z"/><text class="g" x="622" y="2">cyoB</text><path class="dg" d="M652 -4H665L668 0L665 4H652Z"/><text class="gl" x="659.5" y="2">C</text><path class="dg" d="M669 -4H674L677 0L674 4H669Z"/><text class="gl" x="672.5" y="2">D</text><path class="dor" d="M682 -4H699L702 0L699 4H682Z"/><text class="gw" x="691.5" y="2">ctaA</text><path class="gd" d="M708 -4H728L731 0L728 4H708Z"/><text class="g" x="719" y="2">ctaB</text><path class="lg" d="M733 -4H760L763 0L760 4H733Z"/><text class="g" x="747.5" y="2">mfs</text></g>
<g transform="translate(0,344)"><line class="bb" x1="566" y1="0" x2="725" y2="0"/><path class="dg" d="M570 -4H591L594 0L591 4H570Z"/><text class="gl" x="581.5" y="2">cyoA</text><path class="ol" d="M595 -4H645L648 0L645 4H595Z"/><text class="g" x="620.5" y="2">cyoB</text><path class="dg" d="M651 -4H662L665 0L662 4H651Z"/><text class="gl" x="657.5" y="2">C</text><path class="lg" d="M670 -3H674L677 0L674 3H670Z"/><text class="g" x="673" y="1.5" font-size="4">D</text><path class="dor" d="M681 -4H696L699 0L696 4H681Z"/><text class="gw" x="689.5" y="2">ctaA</text><path class="gd" d="M701 -4H721L724 0L721 4H701Z"/><text class="g" x="712" y="2">ctaB</text></g>
</g>

<!-- ===== Panel C ===== -->
<text class="pl" x="62" y="406">C</text>
<g id="c-shading">
<rect x="130" y="390" width="173" height="28" fill="url(#gOL)"/>
<rect x="117" y="418" width="186" height="52" fill="url(#gO)"/>
<rect x="127" y="481.7" width="176" height="12.6" fill="url(#gOl)"/>
<rect x="253" y="506.8" width="50" height="3" fill="url(#gGr)"/>
<rect x="139" y="519.5" width="164" height="3" fill="url(#gTr)"/>
<rect x="133" y="532.5" width="170" height="3" fill="url(#gTr)"/>
<rect x="130" y="546.2" width="173" height="3" fill="url(#gGr)"/>
<rect x="138" y="560" width="165" height="40" fill="url(#gT)"/>
<rect x="148" y="620" width="155" height="20" fill="url(#gG)"/>
<rect x="161" y="613.3" width="142" height="13.4" fill="url(#gG)"/>
<rect x="118" y="659.5" width="185" height="18.8" fill="url(#gT)"/>
<rect x="142" y="653.3" width="161" height="12.4" fill="url(#gT)"/>
<rect x="95" y="690" width="208" height="3.4" fill="#5cc8c8" opacity="0.8"/>
</g>
<g id="c-connectors">
<path class="cf" d="M247 390.3H307M246 403.3H307M247 416.7H307M247 429.3H307M246 442.7H307M246 455.7H307M250 468.3H307M250 481.7H307M250 494.3H307M303 508.3H307M303 521H307M303 534H307M303 547.7H307M253 560H307M253 573.3H307M253 587.3H307M253 600H307M305 613.3H307M266 626.7H307M253 640H307M256 653.3H307M256 665.7H307M250 678.3H307M303 691.7H307M95 703.3H307"/>
<path class="ct" d="M130 390.3H247M130 403.3H246M130 416.7H247M130 429.3H247M130 390.3V429.3M119 410H130M128 442.7H246M128 455.7H246M128 442.7V455.7M119 449.2H128M119 410V449.2M117 429.6H119M117 468.3H250M117 429.6V468.3M113 449H117M127 481.7H250M127 494.3H250M127 481.7V494.3M113 488H127M139 508.3H253M139 521H303M139 508.3V521M133 514.7H139M133 534H303M133 514.7V534M130 524.3H133M130 547.7H303M130 524.3V547.7M129 536H130M140 560H253M140 573.3H253M140 560V573.3M140 587.3H253M140 600H253M140 587.3V600M138 566.7H140M138 593.7H140M138 566.7V593.7M136 580.2H138M161 613.3H305M161 626.7H266M161 613.3V626.7M148 620H161M148 640H253M148 620V640M136 630H148M136 580.2V630M129 605H136M129 536V605M113 570.5H129M113 449V570.5M108 510H113M142 653.3H256M142 665.7H256M142 653.3V665.7M118 659.5H142M118 678.3H250M118 659.5V678.3M108 669H118M108 510V669M95 595H108M95 691.7H238M95 595V691.7M10 643H95M10 703.3H95M10 643V703.3M7 673H10"/>
<path class="ct" d="M15 626.5H49"/>
<text x="33" y="639" font-size="8" fill="#222" text-anchor="middle">0.2</text>
</g>
<g id="c-tips">
<g id="c-tip-1" transform="translate(0,390.3)"><path d="M307 -4.5H363L368 0L363 4.5H307Z" fill="#e8861a" stroke="#b06010" stroke-width="0.4"/><text class="lab" x="309" y="2">AFE-2A ATCC 23270<tspan font-size="3.8" baseline-shift="super">T</tspan></text></g>
<g id="c-tip-2" transform="translate(0,403.3)"><path d="M307 -4.5H363L368 0L363 4.5H307Z" fill="#e8861a" stroke="#b06010" stroke-width="0.4"/><text class="lab" x="309" y="2">AFG CF3<tspan font-size="3.8" baseline-shift="super">T</tspan></text></g>
<g id="c-tip-3" transform="translate(0,416.7)"><path d="M307 -4.5H363L368 0L363 4.5H307Z" fill="#e8861a" stroke="#b06010" stroke-width="0.4"/><text class="lab" x="309" y="2">AFE-2B PQ505</text></g>
<g id="c-tip-4" transform="translate(0,429.3)"><path d="M307 -4.5H363L368 0L363 4.5H307Z" fill="#e8861a" stroke="#b06010" stroke-width="0.4"/><text class="lab" x="309" y="2">AFD ATCC 33020<tspan font-size="3.8" baseline-shift="super">T</tspan></text></g>
<g id="c-tip-5" transform="translate(0,442.7)"><path d="M307 -4.5H363L368 0L363 4.5H307Z" fill="#e8861a" stroke="#b06010" stroke-width="0.4"/><text class="lab" x="309" y="2">AFP DSM 100412<tspan font-size="3.8" baseline-shift="super">T</tspan></text></g>
<g id="c-tip-6" transform="translate(0,455.7)"><path d="M307 -4.5H363L368 0L363 4.5H307Z" fill="#e8861a" stroke="#b06010" stroke-width="0.4"/><text class="lab" x="309" y="2">AFV DSM 22755<tspan font-size="3.8" baseline-shift="super">T</tspan></text></g>
<g id="c-tip-7" transform="translate(0,468.3)"><path d="M307 -4.5H363L368 0L363 4.5H307Z" fill="#e8861a" stroke="#b06010" stroke-width="0.4"/><text class="lab" x="309" y="2">AFN DSM 107098<tspan font-size="3.8" baseline-shift="super">T</tspan></text></g>
<g id="c-tip-8" transform="translate(0,481.7)"><path d="M307 -4.5H363L368 0L363 4.5H307Z" fill="#9c9c0c" stroke="#6a6a00" stroke-width="0.4"/><text class="lab" x="309" y="2">AMS DSM105150<tspan font-size="3.8" baseline-shift="super">T</tspan></text></g>
<g id="c-tip-9" transform="translate(0,494.3)"><path d="M307 -4.5H363L368 0L363 4.5H307Z" fill="#9c9c0c" stroke="#6a6a00" stroke-width="0.4"/><text class="lab" x="309" y="2">FCA ATCC 51756<tspan font-size="3.8" baseline-shift="super">T</tspan></text></g>
<g id="c-tip-10" transform="translate(0,508.3)"><path d="M307 -4.5H363L368 0L363 4.5H307Z" fill="#22b34a" stroke="#107a30" stroke-width="0.4"/><text class="lab" x="309" y="2">ACO ATCC 19703<tspan font-size="3.8" baseline-shift="super">T</tspan></text></g>
<g id="c-tip-11" transform="translate(0,521)"><path d="M307 -4.5H363L368 0L363 4.5H307Z" fill="#1fb0b0" stroke="#0a7a7a" stroke-width="0.4"/><text class="lab" x="309" y="2">AMO GG1-14<tspan font-size="3.8" baseline-shift="super">T</tspan></text></g>
<g id="c-tip-12" transform="translate(0,534)"><path d="M307 -4.5H363L368 0L363 4.5H307Z" fill="#1fb0b0" stroke="#0a7a7a" stroke-width="0.4"/><text class="lab" x="309" y="2">AMA SH<tspan font-size="3.8" baseline-shift="super">T</tspan></text></g>
<g id="c-tip-13" transform="translate(0,547.7)"><path d="M307 -4.5H363L368 0L363 4.5H307Z" fill="#22b34a" stroke="#107a30" stroke-width="0.4"/><text class="lab" x="309" y="2">AMA SH<tspan font-size="3.8" baseline-shift="super">T</tspan></text></g>
<g id="c-tip-14" transform="translate(0,560)"><path d="M307 -4.5H363L368 0L363 4.5H307Z" fill="#1fb0b0" stroke="#0a7a7a" stroke-width="0.4"/><text class="lab" x="309" y="2">ACO ATCC 19703<tspan font-size="3.8" baseline-shift="super">T</tspan></text></g>
<g id="c-tip-15" transform="translate(0,573.3)"><path d="M307 -4.5H363L368 0L363 4.5H307Z" fill="#1fb0b0" stroke="#0a7a7a" stroke-width="0.4"/><text class="lab" x="309" y="2">ASU RW2<tspan font-size="3.8" baseline-shift="super">T</tspan></text></g>
<g id="c-tip-16" transform="translate(0,587.3)"><path d="M307 -4.5H363L368 0L363 4.5H307Z" fill="#1fb0b0" stroke="#0a7a7a" stroke-width="0.4"/><text class="lab" x="309" y="2">ATH ATCC 19377<tspan font-size="3.8" baseline-shift="super">T</tspan></text></g>
<g id="c-tip-17" transform="translate(0,600)"><path d="M307 -4.5H363L368 0L363 4.5H307Z" fill="#1fb0b0" stroke="#0a7a7a" stroke-width="0.4"/><text class="lab" x="309" y="2">ATH-3D DSM 14366<tspan font-size="3.8" baseline-shift="super">T</tspan></text></g>
<g id="c-tip-18" transform="translate(0,613.3)"><path d="M307 -4.5H363L368 0L363 4.5H307Z" fill="#22b34a" stroke="#107a30" stroke-width="0.4"/><text class="lab" x="309" y="2">ATH ATCC 19377<tspan font-size="3.8" baseline-shift="super">T</tspan></text></g>
<g id="c-tip-19" transform="translate(0,626.7)"><path d="M307 -4.5H363L368 0L363 4.5H307Z" fill="#22b34a" stroke="#107a30" stroke-width="0.4"/><text class="lab" x="309" y="2">ACO ATCC 19703<tspan font-size="3.8" baseline-shift="super">T</tspan></text></g>
<g id="c-tip-20" transform="translate(0,640)"><path d="M307 -4.5H363L368 0L363 4.5H307Z" fill="#22b34a" stroke="#107a30" stroke-width="0.4"/><text class="lab" x="309" y="2">ACO ATCC 19703<tspan font-size="3.8" baseline-shift="super">T</tspan></text></g>
<g id="c-tip-21" transform="translate(0,653.3)"><path d="M307 -4.5H363L368 0L363 4.5H307Z" fill="#1fb0b0" stroke="#0a7a7a" stroke-width="0.4"/><text class="lab" x="309" y="2">Ca. IYE SpSt908<tspan font-size="3.8" baseline-shift="super">TS</tspan></text></g>
<g id="c-tip-22" transform="translate(0,665.7)"><path d="M307 -4.5H363L368 0L363 4.5H307Z" fill="#1fb0b0" stroke="#0a7a7a" stroke-width="0.4"/><text class="lab" x="309" y="2">ICO VAN18-1<tspan font-size="3.8" baseline-shift="super">T</tspan></text></g>
<g id="c-tip-23" transform="translate(0,678.3)"><path d="M307 -4.5H363L368 0L363 4.5H307Z" fill="#1fb0b0" stroke="#0a7a7a" stroke-width="0.4"/><text class="lab" x="309" y="2">FCA ATCC 51756<tspan font-size="3.8" baseline-shift="super">T</tspan></text></g>
<g id="c-tip-24" transform="translate(0,691.7)"><path d="M307 -4.5H363L368 0L363 4.5H307Z" fill="#1fb0b0" stroke="#0a7a7a" stroke-width="0.4"/><text class="lab" x="309" y="2">AMS DSM105150<tspan font-size="3.8" baseline-shift="super">T</tspan></text></g>
<g id="c-tip-25" transform="translate(0,703.3)"><path d="M307 -4.5H363L368 0L363 4.5H307Z" fill="#d9d9d9" stroke="#888" stroke-width="0.4"/><text class="labd" x="309" y="2">WP_036086971</text></g>
</g>

<!-- ===== Panel D ===== -->
<text class="pl" x="400" y="396">D</text>
<text x="640" y="395" font-size="13.5" fill="#111" text-anchor="middle">Cu<tspan font-size="9" baseline-shift="sub">A</tspan> binding motif</text>
<line x1="538" y1="400" x2="742" y2="400" stroke="#333" stroke-width="1"/>
<text x="481" y="410" font-size="7" fill="#444" text-anchor="middle">189</text>
<text x="789" y="410" font-size="7" fill="#444" text-anchor="middle">266</text>
<g id="d-dots" fill="#111"><circle cx="541.7" cy="413" r="1.2"/><circle cx="693" cy="413" r="1.2"/><circle cx="700.5" cy="413" r="1.2"/><circle cx="708" cy="413" r="1.2"/><circle cx="723" cy="413" r="1.2"/><circle cx="734.2" cy="413" r="1.2"/></g>
<g id="d-bg">
<rect x="398" y="416.2" width="398" height="60.5" fill="#fbdcc4"/>
<rect x="398" y="476.7" width="398" height="68" fill="#c8ecc8"/>
<rect x="398" y="544.7" width="398" height="113.4" fill="#c4ecec"/>
<rect x="398" y="658.1" width="398" height="30.3" fill="#e6e4b8"/>
<g fill="#9a9a9a" opacity="0.45"><rect x="478" y="416.2" width="3.74" height="272.2"/><rect x="530.36" y="416.2" width="3.74" height="272.2"/><rect x="556.54" y="416.2" width="3.74" height="272.2"/><rect x="582.72" y="416.2" width="3.74" height="272.2"/><rect x="593.94" y="416.2" width="3.74" height="272.2"/><rect x="646.3" y="416.2" width="3.74" height="272.2"/><rect x="788.42" y="416.2" width="3.74" height="272.2"/></g>
<g fill="#111"><rect x="537.84" y="416.2" width="3.74" height="60.5"/><rect x="691.18" y="416.2" width="3.74" height="60.5"/><rect x="691.18" y="544.7" width="3.74" height="7.56"/><rect x="706.14" y="416.2" width="3.74" height="128.5"/><rect x="721.1" y="416.2" width="3.74" height="60.5"/><rect x="732.32" y="416.2" width="3.74" height="272.2"/></g>
</g>
<g id="d-names">
<text class="nm" x="400" y="422.2">CEJ18213.1</text>
<text class="nm" x="400" y="429.76">AFN_DSM107098_A2</text>
<text class="nm" x="400" y="437.32">AFE_PQ505_A2</text>
<text class="nm" x="400" y="444.88">AFD_ATCC33020_A2</text>
<text class="nm" x="400" y="452.44">AFG_CF3_A2</text>
<text class="nm" x="400" y="460">AFE_ATCC23270_A2</text>
<text class="nm" x="400" y="467.56">AFP_DSM100412_A2</text>
<text class="nm" x="400" y="475.12">AFV_DSM22755_A2</text>
<text class="nm" x="400" y="482.68">AFN_DSM107098_A1-2</text>
<text class="nm" x="400" y="490.24">AFV_DSM22755_A1-2</text>
<text class="nm" x="400" y="497.8">FCA_ATCC51756_A1-2</text>
<text class="nm" x="400" y="505.36">ICO_VAN18-1_A1-2</text>
<text class="nm" x="400" y="512.92">ATH_ATCC19377_A1-2</text>
<text class="nm" x="400" y="520.48">ACO_ATCC19703_A1-2</text>
<text class="nm" x="400" y="528.04">ASU_RW2_A1-2</text>
<text class="nm" x="400" y="535.6">AMA_SH_A1-2</text>
<text class="nm" x="400" y="543.16">AMO_GG114_A1-2</text>
<text class="nm" x="400" y="550.72">FCA_ATCC51756_A1-1</text>
<text class="nm" x="400" y="558.28">ICO_VAN18-1_A1-1</text>
<text class="nm" x="400" y="565.84">ATH_ATCC19377_A1-1</text>
<text class="nm" x="400" y="573.4">ACO_ATCC19703_A1-1</text>
<text class="nm" x="400" y="580.96">ASU_RW2_A1-1</text>
<text class="nm" x="400" y="588.52">AMA_SH_A1-1</text>
<text class="nm" x="400" y="596.08">AMO_GG114_A1-1</text>
<text class="nm" x="400" y="603.64">AFE_2B_PQ505_A1-1</text>
<text class="nm" x="400" y="611.2">AFD_ATCC33020_A1-1</text>
<text class="nm" x="400" y="618.76">AFE_ATCC23270_A1-1</text>
<text class="nm" x="400" y="626.32">AFG_CF3_A1_1</text>
<text class="nm" x="400" y="633.88">AFN_DSM107098_A1-1</text>
<text class="nm" x="400" y="641.44">AFP_DSM100412_A1-1</text>
<text class="nm" x="400" y="649">AFV_DSM22755_A1-1</text>
<text class="nm" x="400" y="656.56">AMS_DSM105150_A1-1</text>
<text class="nm" x="400" y="664.12">AFN_DSM107098_A1-3</text>
<text class="nm" x="400" y="671.68">AFP_DSM100412_A1-3</text>
<text class="nm" x="400" y="679.24">AMS_DSM105150_A1-3</text>
<text class="nm" x="400" y="686.8">FCA_ATCC51756_A1-3</text>
</g>
<g id="d-seqs">
<text class="sq" x="478" y="422.2">PVNRKVRIVTTANDVI<tspan class="w">Q</tspan>SWMIPAFGVKQDAIPGFVRDTWFKAEKVGV------TRGQ<tspan class="w">C</tspan>AEL<tspan class="w">C</tspan>GKE<tspan class="w">H</tspan>AF<tspan class="w">M</tspan>PIVVRVLSDGDYTQW</text>
<text class="sq" x="478" y="429.76">PEGRTIDFVLRTKDVM<tspan class="w">Q</tspan>DFWVPAMGEKKDVIPMEVRHLFITPTALGSTATNPMLRVQ<tspan class="w">C</tspan>AMI<tspan class="w">C</tspan>GNG<tspan class="w">H</tspan>PL<tspan class="w">M</tspan>RAPVKVVTAAKFKTW</text>
<text class="sq" x="478" y="437.32">PEGRTIDFVLATKDVM<tspan class="w">Q</tspan>DFWVPAMGEKKDVIPMEVRHLFITPTMLGTTATNPMLRVQ<tspan class="w">C</tspan>SLI<tspan class="w">C</tspan>GNG<tspan class="w">H</tspan>PL<tspan class="w">M</tspan>RAPVKVVTPADFKTW</text>
<text class="sq" x="478" y="444.88">PEGRTIDFVLRTKDVM<tspan class="w">Q</tspan>DFWVPAMGEKKDVIPMEVRHLFITPTMLGTTATNPMLRVQ<tspan class="w">C</tspan>SLI<tspan class="w">C</tspan>GNG<tspan class="w">H</tspan>PL<tspan class="w">M</tspan>RAPVKVVTPADFKAW</text>
<text class="sq" x="478" y="452.44">PEGRTIDFVLRTKDVM<tspan class="w">Q</tspan>DFWVPAMGEKKDVIPMEVRHLFITPTMLGTTATNPMLRVQ<tspan class="w">C</tspan>SLI<tspan class="w">C</tspan>GNG<tspan class="w">H</tspan>PL<tspan class="w">M</tspan>RAPVKVVTPADFKAW</text>
<text class="sq" x="478" y="460">PEGRTIDFVLRTKDVM<tspan class="w">Q</tspan>DFWVPAMGEKKDVIPMEVRHLFITPTMLGTTATNPMLRVQ<tspan class="w">C</tspan>SLI<tspan class="w">C</tspan>GNG<tspan class="w">H</tspan>PL<tspan class="w">M</tspan>RAPVKVVTPADFKTW</text>
<text class="sq" x="478" y="467.56">PEGRTIDFVLRSKDVM<tspan class="w">Q</tspan>DFWVPAMGEKKDVIPMEVRHLFITPTVLGTTATNPMIRVQ<tspan class="w">C</tspan>TMI<tspan class="w">C</tspan>GNG<tspan class="w">H</tspan>PL<tspan class="w">M</tspan>RAPVKVVTAADFKKW</text>
<text class="sq" x="478" y="475.12">PEGRTIDFVLRTKDVM<tspan class="w">Q</tspan>DFWVPAMGEKKDVIPMEVRHLFITPTVLGTTATNPMIRVQ<tspan class="w">C</tspan>TMI<tspan class="w">C</tspan>GNG<tspan class="w">H</tspan>PL<tspan class="w">M</tspan>RAPVKVVTAADFKTW</text>
<text class="sq" x="478" y="482.68">PANTPIFFKLTSTAVTTDFFVPQLLGMIDVMPGMRTKDALESDSIGR------YQGVAANY<tspan class="w">C</tspan>GAGTSK<tspan class="w">C</tspan>LFKTHVLSKGDFASW</text>
<text class="sq" x="478" y="490.24">PANTPVFFKLTSTAVTTDFFVPQLLGMIDVMPGMRTKDALESDSIGQ------YQGVAADY<tspan class="w">C</tspan>GAGTSK<tspan class="w">C</tspan>LFKTHVLSKGDFASW</text>
<text class="sq" x="478" y="497.8">PANTPVFFKLTSTAVTTDFFVPQLVGMIDVMPGMRTKDAMEVPQTGV------YQGIAADY<tspan class="w">C</tspan>GAGTSK<tspan class="w">C</tspan>LFKTRVVSMRQFHQW</text>
<text class="sq" x="478" y="505.36">PANTPVFFKLTSTAVTTDFFVPQLLGMIDVMPGMRTKDALMSDHLGS------YQGIAADY<tspan class="w">C</tspan>GAGMSK<tspan class="w">C</tspan>LFKTKVVSKADFDNW</text>
<text class="sq" x="478" y="512.92">PANTPVFFKLTSTAVTTDFFVPQLLGMIDVMPGMRTKDALESKNLGT------YQGIAADY<tspan class="w">C</tspan>GAGTSK<tspan class="w">C</tspan>LFKTKVVSMADFKQW</text>
<text class="sq" x="478" y="520.48">PANTPVFFKLTSTAVTTDFFVPQLLGMIDVMPGMRTKDALESKNIGT------YQGIAADY<tspan class="w">C</tspan>GAGTSK<tspan class="w">C</tspan>LFKTKVVSMADFKQW</text>
<text class="sq" x="478" y="528.04">PANTPVFFKLTSTAVTTDFFVPQLLGMIDVMPGMRTKDALESNNLGT------YQGIAADY<tspan class="w">C</tspan>GAGTSK<tspan class="w">C</tspan>LFKTKVVSMADFKQW</text>
<text class="sq" x="478" y="535.6">PANTPVFFKLTSTAVTTDFFVPQLLGMIDVMPGMRTKDALESDHLGT------YQGIAADY<tspan class="w">C</tspan>GAGMSK<tspan class="w">C</tspan>LFKTKVVSMADFQNW</text>
<text class="sq" x="478" y="543.16">PANTPVFFKLTSTAVTTDFFVPQLVGMIDVMPGMRTKDALESSHLGT------YQGIAADY<tspan class="w">C</tspan>GAGMSK<tspan class="w">C</tspan>LFKTKVVSMADFQNW</text>
<text class="sq" x="478" y="550.72">PVNTPAFFRLTSTSVTSGFFIPQLVGMIDVMPGMRTKNALYTTHVGE------YQGI<tspan class="w">C</tspan>SDYAGAGTSK<tspan class="w">C</tspan>TFKTRIVPQSEFTQW</text>
<text class="sq" x="478" y="558.28">PVNTPVFFRLTSTSVTSGFFIPQLVGMIDVMPGMRTKNALESKDIGV------YQGIASDYAGAGTSK<tspan class="w">C</tspan>TFTTKMVSKEDFQNW</text>
<text class="sq" x="478" y="565.84">PVNTPVFFRLTSSAVTTFFFIPQLVGMIDVMPGMRTKNALLSDHAGE------YQGIASDYAGAGTSK<tspan class="w">C</tspan>TFKTKMVDKADFAQW</text>
<text class="sq" x="478" y="573.4">PVNTPVFFRLTSSAVTTFFFIPQLVGMIDVMPGMRTKNALLSKNAGE------YQGIASDFAGAGTSK<tspan class="w">C</tspan>TFKTKMVDKADFSQW</text>
<text class="sq" x="478" y="580.96">PVNTPVFFRLTSSAVTTFFFIPQLVGMIDVMPGMRTKNALLSDHAGE------YQGIASDFAGAGTSK<tspan class="w">C</tspan>TFKTKMVDKADFSQW</text>
<text class="sq" x="478" y="588.52">PVNTPVFFRLTSSAVTTFFFIPQLVGMIDVMPGMRTKNALMSKNHGE------YQGIASDFAGAGTSK<tspan class="w">C</tspan>TFKTKMVSAGDFSQW</text>
<text class="sq" x="478" y="596.08">PVNTPVFFRLTSSAVTTFFFIPQLVGMIDVMPGMRTKNALMSDHVGE------YQGIASDYAGAGTSK<tspan class="w">C</tspan>TFKTKMVSAGDFSQW</text>
<text class="sq" x="478" y="603.64">PANTPVFFRLTSSAVTTFFFIPQLVGMIDVMPGMRTKNALESKRVGE------YQGIASDYAGAGTSK<tspan class="w">C</tspan>AFKTRIVKSADFREW</text>
<text class="sq" x="478" y="611.2">PANTPVFFRLTSSAVTTFFFIPQLVGMIDVMPGMRTKNALESKNVGE------YQGIASDYAGAGTSK<tspan class="w">C</tspan>TFKTRIVKSADFREW</text>
<text class="sq" x="478" y="618.76">PANTPVFFRLTSSAVTTFFFIPQLVGMIDVMPGMRTKNALESKNVGE------YQGIASDYAGAGTSK<tspan class="w">C</tspan>TFKTRIVKSADFREW</text>
<text class="sq" x="478" y="626.32">PANTPVFFRLTSSAVTTFFFIPQLVGMIDVMPGMRTKNALESKNVGE------YQGIASDYAGAGTSK<tspan class="w">C</tspan>TFKTKIVKSADFREW</text>
<text class="sq" x="478" y="633.88">PANTPVFFRLTSTAVTTFFFIPQLVGMIDVMPGMRTKNALESSHMGS------YQGIASDYAGAGTSK<tspan class="w">C</tspan>TFKTKILSATDYSQW</text>
<text class="sq" x="478" y="641.44">PANTPVFFRLTSTAVTTFFFIPQLVGMIDVMPGMRTKNALESKNIGE------YQGIASDYAGAGTSK<tspan class="w">C</tspan>TFKTKMLSSADFGQW</text>
<text class="sq" x="478" y="649">PANTPVFFRLTSTAVTTFFFIPQLVGMIDVMPGMRTKNAMESNHIGE------YQGIASDYAGAGTSK<tspan class="w">C</tspan>TFKTKMLSSADFGQW</text>
<text class="sq" x="478" y="656.56">PANTPVHFRLTSTSVTNDFFIPQLVGMIDVMPGMRTKSALLAKHVGE------YQGFSADYSGAGPSK<tspan class="w">C</tspan>QFKTKAVTAEQFQQW</text>
<text class="sq" x="478" y="664.12">PVGVPVHFRLTSTSVVNDFLIPQLVGMIDVMPGMRTKQALVADKAGT------TIGYSADYSGAGLSK<tspan class="w">C</tspan>EFQTRAVRMAQFAQW</text>
<text class="sq" x="478" y="671.68">PVGIPVHFRLTSTSVVNDFLIPQLVGMIDVMPGMRTKQALVADKAGT------YIGFSADYSGAGLSK<tspan class="w">C</tspan>EFQTKAVSAAQFAQW</text>
<text class="sq" x="478" y="679.24">PVGTPVHFRLTSTSVVNDFIIPQLVGMIDVMPGMRTKQALVADKAGT------TVGYSADYSGAGLSK<tspan class="w">C</tspan>EFQTKAVSPAQFEQW</text>
<text class="sq" x="478" y="686.8">PVGTPVHFRLTSTSVVNDFIIPQLVGMIDVMPGMRTKQAMVADKAGT------YVGYSADYSGAGLSK<tspan class="w">C</tspan>EFQTKAVSPTQFTQW</text>
<text class="sq" x="478" y="694" xml:space="preserve">*      : : .  *   : :*      *.:*   . : .     *          :.   :*     *  . :. :. :   *</text>
</g>
</svg>
